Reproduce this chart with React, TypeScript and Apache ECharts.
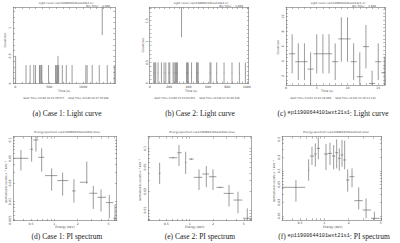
import { useEffect, useRef } from "react";
import * as echarts from "echarts";

const INK = "#666666";
const FRAME = "#6e6e6e";
const TEXT = "#444444";
const SANS = "'DejaVu Sans', 'Liberation Sans', sans-serif";
const SERIF = "'Liberation Serif', 'DejaVu Serif', serif";
const MONO = "'Liberation Mono', 'DejaVu Sans Mono', monospace";

// ---- Case 1: light curve (single-count bins) ----
const case1Time = [4, 158, 218, 272, 297, 356, 366, 381, 391, 490, 594, 604, 619, 629, 639, 693, 752, 837, 1040, 1059, 1134, 1238, 1282, 1356, 1460];
const case1Rate = [0.25, 0.167, 0.167, 0.167, 0.167, 0.167, 0.167, 0.167, 0.167, 0.167, 0.167, 0.167, 0.167, 0.25, 0.167, 0.167, 0.167, 0.167, 0.167, 0.167, 0.167, 0.167, 1.25, 0.167, 0.167];
const case1RateErr = [0.25, 0.167, 0.167, 0.167, 0.167, 0.167, 0.167, 0.167, 0.167, 0.167, 0.167, 0.167, 0.167, 0.25, 0.167, 0.167, 0.167, 0.167, 0.167, 0.167, 0.167, 0.167, 0.375, 0.167, 0.167];

// ---- Case 2: light curve ----
const case2Time = [41, 52, 62, 86, 121, 148, 166, 197, 207, 241, 252, 266, 276, 286, 328, 379, 390, 397, 431, 483, 490, 500, 621, 631, 690, 766, 848, 924, 986];
const case2Rate = [0.25, 0.25, 0.25, 0.25, 0.25, 0.25, 0.25, 0.25, 0.25, 0.25, 0.25, 0.25, 0.25, 0.25, 1.5, 0.25, 0.25, 0.25, 0.25, 0.25, 0.25, 0.25, 0.25, 0.25, 0.25, 0.25, 0.25, 0.25, 0.25];
const case2RateErr = [0.25, 0.25, 0.25, 0.25, 0.25, 0.25, 0.25, 0.25, 0.25, 0.25, 0.25, 0.25, 0.25, 0.25, 0.4, 0.25, 0.25, 0.25, 0.25, 0.25, 0.25, 0.25, 0.25, 0.25, 0.25, 0.25, 0.25, 0.25, 0.25];

// ---- ep11900644101wxt21s1: light curve ----
const srcBin = [1, 2, 3, 4, 5, 6, 7, 8, 9, 10, 11, 12, 13, 14, 15, 16];
const srcRate = [5, 3.93, 3.93, 2.94, 5, 5, 5, 3.93, 7, 7, 3.93, 1.91, 5.96, 1.01, 3.93, 2.45];
const srcRateLo = [2.36, 1.46, 1.46, 0, 2.36, 2.36, 2.36, 1.46, 3.93, 3.93, 1.46, 0, 3.03, 0, 1.46, 0];
const srcRateHi = [7.62, 6.4, 6.4, 5.19, 7.62, 7.62, 7.62, 6.4, 9.91, 9.91, 6.4, 5.19, 8.88, 2.72, 6.4, 4.61];

// ---- Case 1: PI spectrum ----
const case1E = [0.371, 0.51, 0.58, 0.687, 0.924, 1.28, 1.79, 2.62, 3.18, 4.0, 5.12, 6.06];
const case1ELo = [0.296, 0.49, 0.536, 0.622, 0.758, 1.093, 1.7, 2.14, 2.83, 3.59, 4.64, 5.77];
const case1EHi = [0.462, 0.53, 0.622, 0.743, 1.093, 1.515, 1.88, 2.69, 3.59, 4.64, 5.77, 6.37];
const case1Flux = [0.0504, 0.0706, 0.1, 0.0523, 0.0264, 0.0219, 0.0149, 0.0206, 0.01365, 0.01175, 0.00964, 0.00537];
const case1FluxLo = [0.0319, 0.0445, 0.0647, 0.0306, 0.0151, 0.0125, 0.00964, 0.0195, 0.0076, 0.00688, 0.00537, 0.0049];
const case1FluxHi = [0.0689, 0.12, 0.12, 0.0732, 0.0347, 0.0295, 0.023, 0.0445, 0.01795, 0.0158, 0.0128, 0.00883];

// ---- Case 2: PI spectrum ----
const case2E = [0.41, 0.61, 0.728, 0.888, 1.05, 1.32, 1.64, 2.0, 2.46, 3.22, 4.2, 5.54];
const case2ELo = [0.4, 0.541, 0.693, 0.87, 0.98, 1.126, 1.456, 1.776, 2.21, 2.745, 3.69, 4.88];
const case2EHi = [0.42, 0.693, 0.788, 0.905, 1.126, 1.456, 1.776, 2.21, 2.745, 3.69, 4.78, 6.24];
const case2Flux = [0.0394, 0.0706, 0.0851, 0.0586, 0.0671, 0.0339, 0.0384, 0.0347, 0.0233, 0.0186, 0.0145, 0.00733];
const case2FluxLo = [0.0264, 0.0685, 0.0518, 0.0384, 0.065, 0.0211, 0.0233, 0.0211, 0.0226, 0.0113, 0.00883, 0.0067];
const case2FluxHi = [0.0586, 0.0727, 0.113, 0.0883, 0.069, 0.0456, 0.0518, 0.0456, 0.024, 0.0254, 0.0198, 0.01064];

// ---- ep11900644101wxt21s1: PI spectrum ----
const srcE = [0.446, 0.64, 0.704, 0.774, 0.843, 1.049, 1.175, 1.305, 1.421, 1.533, 1.654, 1.784, 1.944, 2.2, 2.66, 3.28, 4.16];
const srcELo = [0.299, 0.63, 0.665, 0.752, 0.804, 0.99, 1.11, 1.244, 1.368, 1.476, 1.592, 1.718, 1.854, 2.04, 2.35, 2.98, 3.78];
const srcEHi = [0.582, 0.65, 0.752, 0.804, 0.884, 1.11, 1.244, 1.368, 1.476, 1.592, 1.718, 1.854, 2.04, 2.35, 2.98, 3.78, 4.79];
const srcFlux = [0.0429, 0.104, 0.213, 0.236, 0.315, 0.236, 0.244, 0.213, 0.253, 0.189, 0.224, 0.174, 0.0624, 0.074, 0.0217, 0.01345, 0.00877];
const srcFluxLo = [0.0206, 0.0603, 0.1345, 0.1235, 0.18, 0.104, 0.1345, 0.108, 0.1134, 0.1006, 0.1235, 0.108, 0.0344, 0.0429, 0.0139, 0.00877, 0.00805];
const srcFluxHi = [0.0624, 0.18, 0.344, 0.407, 0.554, 0.394, 0.422, 0.374, 0.5, 0.315, 0.483, 0.467, 0.108, 0.1134, 0.0429, 0.0244, 0.01235];

// ---- tick labels ----
const case1TimeLabels = [0, 500, 1000];
const case2TimeLabels = [0, 200, 400, 600, 800, 1000];
const srcTimeLabels = [0, 5, 10, 15];
const case1RateLabels = [0, 0.5, 1];
const case2RateLabels = [0, 0.5, 1, 1.5];
const srcRateLabels = [2, 4, 6, 8, 10];
const energyLabels = [0.5, 1, 2, 5];
const case1FluxLabels = [0.005, 0.01, 0.02, 0.05, 0.1];
const case2FluxLabels = [0.01, 0.02, 0.05, 0.1];
const srcFluxLabels = [0.01, 0.02, 0.05, 0.1, 0.2, 0.5];

type Row = number[];

const lcRows = (t: number[], v: number[], err: number[], half: number): Row[] =>
  t.map((x, i) => [x, x - half, x + half, v[i], v[i] - err[i], v[i] + err[i]]);

const binRows = (t: number[], v: number[], lo: number[], hi: number[], half: number): Row[] =>
  t.map((x, i) => [x, x - half, x + half, v[i], lo[i], hi[i]]);

const specRows = (e: number[], el: number[], eh: number[], f: number[], fl: number[], fh: number[]): Row[] =>
  e.map((x, i) => [x, el[i], eh[i], f[i], fl[i], fh[i]]);

const linearTicks = (min: number, max: number, step: number) => {
  const out: number[] = [];
  for (let k = Math.ceil(min / step); k * step <= max + 1e-9; k++) out.push(Math.round(k * step * 1e6) / 1e6);
  return out;
};

const logTicks = (min: number, max: number) => {
  const out: number[] = [];
  for (let e = Math.floor(Math.log10(min)); e <= Math.ceil(Math.log10(max)); e++) {
    for (let m = 1; m <= 9; m++) {
      const v = Number((m * Math.pow(10, e)).toPrecision(3));
      if (v >= min * 0.999 && v <= max * 1.001) out.push(v);
    }
  }
  return out;
};

const fmtNum = (v: number) => String(Number(Number(v).toPrecision(3)));

interface AxisSpec {
  type: "value" | "log";
  min: number;
  max: number;
  labels: number[];
  ticks: number[];
}

function axisPair(kind: "x" | "y", gridIndex: number, s: AxisSpec) {
  const common: any = {
    gridIndex,
    type: s.type,
    min: s.min,
    max: s.max,
    splitLine: { show: false },
    axisLine: { show: true, onZero: false, lineStyle: { color: FRAME, width: 0.6 } },
    axisTick: { show: true, inside: true, length: 1.8, customValues: s.ticks, lineStyle: { color: FRAME, width: 0.5 } },
    minorTick: { show: false },
    silent: true,
  };
  if (s.type === "log") common.logBase = 10;
  const main = {
    ...common,
    position: kind === "x" ? "bottom" : "left",
    axisLabel: {
      show: true,
      customValues: s.labels,
      formatter: (v: number) => fmtNum(v),
      fontSize: 3.2,
      fontFamily: SANS,
      color: TEXT,
      margin: 1.6,
      rotate: kind === "y" ? 90 : 0,
    },
  };
  const mirror = { ...common, position: kind === "x" ? "top" : "right", axisLabel: { show: false } };
  return [main, mirror];
}

interface Panel {
  grid: { left: number; top: number; width: number; height: number };
  x: AxisSpec;
  y: AxisSpec;
  rows: Row[];
}

const panels: Panel[] = [
  {
    grid: { left: 13.3, top: 7.3, width: 101.7, height: 76.3 },
    x: { type: "value", min: -30, max: 1470, labels: case1TimeLabels, ticks: linearTicks(-30, 1470, 100) },
    y: { type: "value", min: 0, max: 1.375, labels: case1RateLabels, ticks: linearTicks(0, 1.375, 0.1) },
    rows: lcRows(case1Time, case1Rate, case1RateErr, 1),
  },
  {
    grid: { left: 149.7, top: 7.3, width: 99, height: 76 },
    x: { type: "value", min: 0, max: 1020, labels: case2TimeLabels, ticks: linearTicks(0, 1020, 50) },
    y: { type: "value", min: 0, max: 1.82, labels: case2RateLabels, ticks: linearTicks(0, 1.82, 0.1) },
    rows: lcRows(case2Time, case2Rate, case2RateErr, 2),
  },
  {
    grid: { left: 286, top: 7.3, width: 99, height: 77.7 },
    x: { type: "value", min: 0, max: 16.1, labels: srcTimeLabels, ticks: linearTicks(0, 16.1, 1) },
    y: { type: "value", min: 0.8, max: 11.25, labels: srcRateLabels, ticks: linearTicks(0.8, 11.25, 0.5) },
    rows: binRows(srcBin, srcRate, srcRateLo, srcRateHi, 0.5),
  },
  {
    grid: { left: 13.3, top: 136.7, width: 103.4, height: 84 },
    x: { type: "log", min: 0.296, max: 6.37, labels: energyLabels, ticks: logTicks(0.296, 6.37) },
    y: { type: "log", min: 0.0049, max: 0.113, labels: case1FluxLabels, ticks: logTicks(0.0049, 0.113) },
    rows: specRows(case1E, case1ELo, case1EHi, case1Flux, case1FluxLo, case1FluxHi),
  },
  {
    grid: { left: 148, top: 136.7, width: 103.3, height: 84 },
    x: { type: "log", min: 0.29, max: 6.24, labels: energyLabels, ticks: logTicks(0.29, 6.24) },
    y: { type: "log", min: 0.0067, max: 0.155, labels: case2FluxLabels, ticks: logTicks(0.0067, 0.155) },
    rows: specRows(case2E, case2ELo, case2EHi, case2Flux, case2FluxLo, case2FluxHi),
  },
  {
    grid: { left: 282, top: 136.7, width: 99.7, height: 83.3 },
    x: { type: "log", min: 0.3, max: 5.12, labels: energyLabels, ticks: logTicks(0.3, 5.12) },
    y: { type: "log", min: 0.00806, max: 0.573, labels: srcFluxLabels, ticks: logTicks(0.00806, 0.573) },
    rows: specRows(srcE, srcELo, srcEHi, srcFlux, srcFluxLo, srcFluxHi),
  },
];

// one bin: horizontal bar across its width, vertical bar across its error range
const renderErrorBar = (_params: any, api: any) => {
  const x = api.value(0);
  const y = api.value(3);
  const a = api.coord([api.value(1), y]);
  const b = api.coord([api.value(2), y]);
  const c = api.coord([x, api.value(4)]);
  const d = api.coord([x, api.value(5)]);
  const style = { stroke: INK, lineWidth: 0.65, fill: null };
  return {
    type: "group",
    children: [
      { type: "line", shape: { x1: a[0], y1: a[1], x2: b[0], y2: b[1] }, style },
      { type: "line", shape: { x1: c[0], y1: c[1], x2: d[0], y2: d[1] }, style },
    ],
  };
};

const txt = (x: number, y: number, text: string, size: number, align = "center", extra: any = {}) => ({
  type: "text",
  x,
  y,
  silent: true,
  ...extra,
  style: { text, fontSize: size, fontFamily: SANS, fill: TEXT, align, verticalAlign: "middle" },
});

const yName = (x: number, y: number, text: string) => txt(x, y, text, 3, "center", { rotation: Math.PI / 2 });

const caption = (x: number, y: number, parts: { t: string; mono?: boolean }[]) => ({
  type: "text",
  x,
  y,
  silent: true,
  style: {
    text: parts.map((p) => `{${p.mono ? "m" : "s"}|${p.t}}`).join(""),
    align: "center",
    verticalAlign: "middle",
    rich: {
      s: { fontFamily: SERIF, fontSize: 7.5, fill: "#222222" },
      m: { fontFamily: MONO, fontSize: 5.2, fill: "#222222" },
    },
  },
});

const graphics = [
  // light-curve headers and footers
  txt(66, 2.2, "Light curve (ep11900660101wxt26s1.lc)", 2.7),
  txt(110, 5.6, "Bin Time:    2.000", 2.7, "right"),
  txt(64, 90.7, "Time (s)", 3),
  txt(66, 98.6, "Start Time 21140 18:32:39:577     Stop Time 21140 18:57:29:886", 2.6),
  yName(4.7, 40, "Count/sec"),

  txt(201, 2.2, "Light curve (ep11900662101wxt34s1.lc)", 2.7),
  txt(243, 5.6, "Bin Time:    2.000", 2.7, "right"),
  txt(191, 90.7, "Time (s)", 3),
  txt(197, 98.6, "Start Time 21140 13:25:03:012     Stop Time 21140 13:42:06:436", 2.6),
  yName(142.3, 45, "Count/sec"),

  txt(338, 2.2, "Light curve (ep11900644101wxt21s1.lc)", 2.7),
  txt(376, 5.6, "Bin Time:    1.000", 2.7, "right"),
  txt(327, 90.7, "Time (s)", 3),
  txt(333, 98.6, "Start Time 21143 22:03:26:880     Stop Time 21143 22:20:11:231", 2.6),
  yName(277.7, 47, "Count/sec"),

  // spectrum headers
  txt(67, 131.7, "Energy spectrum (ep11900660101wxt26s1.pha)", 2.7),
  txt(65, 226.8, "Energy (keV)", 3),
  yName(6, 182, "normalized counts s\u207B\u00B9 keV\u207B\u00B9"),

  txt(202, 131.7, "Energy spectrum (ep11900662101wxt34s1.pha)", 2.7),
  txt(194.7, 226.8, "Energy (keV)", 3),
  yName(139.7, 180, "normalized counts s\u207B\u00B9 keV\u207B\u00B9"),

  txt(336, 131.7, "Energy spectrum (ep11900644101wxt21s1.pha)", 2.7),
  txt(332.7, 226.8, "Energy (keV)", 3),
  yName(273.3, 181, "normalized counts s\u207B\u00B9 keV\u207B\u00B9"),

  // sub-figure captions
  caption(67, 113, [{ t: "(a) Case 1: Light curve" }]),
  caption(200, 113, [{ t: "(b) Case 2: Light curve" }]),
  caption(333, 113, [{ t: "(c) " }, { t: "ep11900644101wxt21s1", mono: true }, { t: ": Light curve" }]),
  caption(67, 236, [{ t: "(d) Case 1: PI spectrum" }]),
  caption(200, 236, [{ t: "(e) Case 2: PI spectrum" }]),
  caption(334, 236, [{ t: "(f) " }, { t: "ep11900644101wxt21s1", mono: true }, { t: ": PI spectrum" }]),
];

export default function App() {
  const ref = useRef<HTMLDivElement>(null);

  useEffect(() => {
    document.body.style.margin = "0";
    if (!ref.current) return;
    const chart = echarts.init(ref.current, null, { renderer: "svg" });

    const grid = panels.map((p) => ({ ...p.grid, containLabel: false, outerBoundsMode: "none" }));
    const xAxis = panels.flatMap((p, i) => axisPair("x", i, p.x));
    const yAxis = panels.flatMap((p, i) => axisPair("y", i, p.y));
    const series = panels.map((p, i) => ({
      type: "custom",
      xAxisIndex: i * 2,
      yAxisIndex: i * 2,
      clip: true,
      silent: true,
      encode: { x: 0, y: 3 },
      renderItem: renderErrorBar,
      data: p.rows,
    }));

    chart.setOption({
      animation: false,
      backgroundColor: "#ffffff",
      textStyle: { fontFamily: SANS },
      grid,
      xAxis,
      yAxis,
      series,
      graphic: graphics,
    } as any);

    return () => chart.dispose();
  }, []);

  return <div ref={ref} style={{ position: "absolute", left: 0, top: 0, width: 400, height: 243 }} />;
}
